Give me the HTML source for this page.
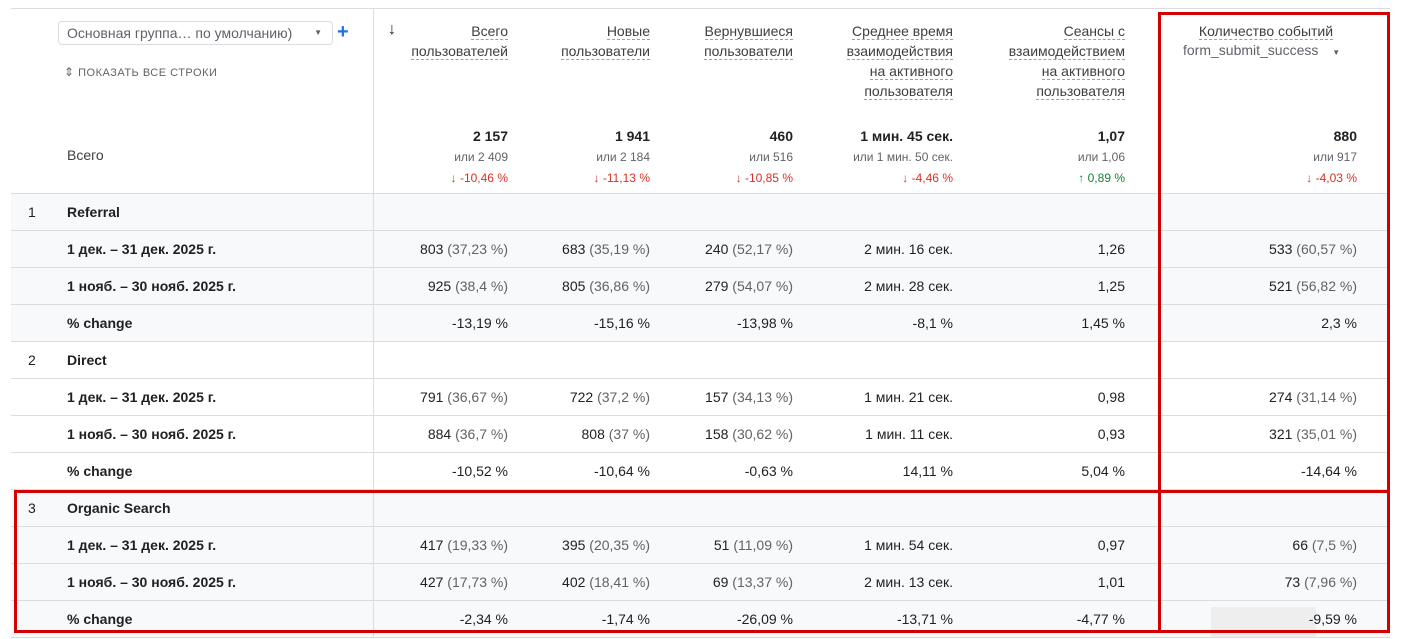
<!DOCTYPE html>
<html><head><meta charset="utf-8">
<style>
*{margin:0;padding:0;box-sizing:border-box}
body{width:1401px;height:639px;background:#fff;position:relative;overflow:hidden;font-family:"Liberation Sans",Arial,sans-serif;color:#202124;font-size:14px}
.a{position:absolute;white-space:nowrap}
.r{position:absolute;left:11px;width:1379px;height:37px;border-bottom:1px solid #dadce0}
.g{background:#f8f9fa}
.r .a{top:0;line-height:36px}
.lab{left:56px;font-weight:bold}
.num{left:17px}
.m{color:#5f6368}
.h{text-align:right;line-height:20px;color:#3c4043}
.h span{border-bottom:1px dashed #9aa0a6}
.red{color:#d93025;font-size:12px}
.grn{color:#188038;font-size:12px}
.sub{color:#5f6368;font-size:12px}
</style></head><body>
<div class="a" style="left:11px;top:8px;width:1379px;height:1px;background:#dadce0"></div>
<div class="a" style="left:373px;top:8px;width:1px;height:630px;background:#dadce0;z-index:2"></div>

<div class="a" style="left:58px;top:21px;width:275px;height:24px;border:1px solid #dadce0;border-radius:4px;line-height:22px;padding-left:8px;color:#5f6368;font-size:14px">Основная группа… по умолчанию)<span style="position:absolute;right:10px;font-size:8px">▼</span></div>
<div class="a" style="left:337px;top:20px;color:#1a73e8;font-size:20px;font-weight:bold;line-height:24px">+</div>
<div class="a" style="left:64px;top:64px;color:#5f6368;font-size:11px;letter-spacing:0.5px;line-height:16px"><span style="font-size:12px">⇕</span> ПОКАЗАТЬ ВСЕ СТРОКИ</div>
<div class="a" style="left:388px;top:21px;font-size:16px;font-weight:bold">↓</div>

<div class="a h" style="right:893px;top:21px"><span>Всего</span><br><span>пользователей</span></div>
<div class="a h" style="right:751px;top:21px"><span>Новые</span><br><span>пользователи</span></div>
<div class="a h" style="right:608px;top:21px"><span>Вернувшиеся</span><br><span>пользователи</span></div>
<div class="a h" style="right:448px;top:21px"><span>Среднее время</span><br><span>взаимодействия</span><br><span>на активного</span><br><span>пользователя</span></div>
<div class="a h" style="right:276px;top:21px"><span>Сеансы с</span><br><span>взаимодействием</span><br><span>на активного</span><br><span>пользователя</span></div>
<div class="a h" style="left:1160px;width:212px;text-align:center;top:21px"><span>Количество событий</span></div>
<div class="a" style="left:1183px;top:42px;color:#5f6368;font-size:14px">form_submit_success <span style="font-size:8px;margin-left:10px">▼</span></div>

<div class="a" style="left:67px;top:147px;color:#3c4043">Всего</div>
<div class="a" style="right:893px;top:126px;text-align:right;line-height:20px"><b>2 157</b><br><span class="sub">или 2 409</span><br><span class="red">↓ -10,46 %</span></div>
<div class="a" style="right:751px;top:126px;text-align:right;line-height:20px"><b>1 941</b><br><span class="sub">или 2 184</span><br><span class="red">↓ -11,13 %</span></div>
<div class="a" style="right:608px;top:126px;text-align:right;line-height:20px"><b>460</b><br><span class="sub">или 516</span><br><span class="red">↓ -10,85 %</span></div>
<div class="a" style="right:448px;top:126px;text-align:right;line-height:20px"><b>1 мин. 45 сек.</b><br><span class="sub">или 1 мин. 50 сек.</span><br><span class="red">↓ -4,46 %</span></div>
<div class="a" style="right:276px;top:126px;text-align:right;line-height:20px"><b>1,07</b><br><span class="sub">или 1,06</span><br><span class="grn">↑ 0,89 %</span></div>
<div class="a" style="right:44px;top:126px;text-align:right;line-height:20px"><b>880</b><br><span class="sub">или 917</span><br><span class="red">↓ -4,03 %</span></div>
<div class="a" style="left:11px;top:193px;width:1379px;height:1px;background:#dadce0"></div>

<div class="r g" style="top:194px"><div class="a num">1</div><div class="a lab">Referral</div></div>
<div class="r g" style="top:231px"><div class="a lab">1 дек. – 31 дек. 2025 г.</div>
<div class="a" style="right:882px">803 <span class="m">(37,23 %)</span></div><div class="a" style="right:740px">683 <span class="m">(35,19 %)</span></div><div class="a" style="right:597px">240 <span class="m">(52,17 %)</span></div><div class="a" style="right:437px">2 мин. 16 сек.</div><div class="a" style="right:265px">1,26</div><div class="a" style="right:33px">533 <span class="m">(60,57 %)</span></div></div>
<div class="r g" style="top:268px"><div class="a lab">1 нояб. – 30 нояб. 2025 г.</div>
<div class="a" style="right:882px">925 <span class="m">(38,4 %)</span></div><div class="a" style="right:740px">805 <span class="m">(36,86 %)</span></div><div class="a" style="right:597px">279 <span class="m">(54,07 %)</span></div><div class="a" style="right:437px">2 мин. 28 сек.</div><div class="a" style="right:265px">1,25</div><div class="a" style="right:33px">521 <span class="m">(56,82 %)</span></div></div>
<div class="r g" style="top:305px"><div class="a lab">% change</div>
<div class="a" style="right:882px">-13,19 %</div><div class="a" style="right:740px">-15,16 %</div><div class="a" style="right:597px">-13,98 %</div><div class="a" style="right:437px">-8,1 %</div><div class="a" style="right:265px">1,45 %</div><div class="a" style="right:33px">2,3 %</div></div>

<div class="r" style="top:342px"><div class="a num">2</div><div class="a lab">Direct</div></div>
<div class="r" style="top:379px"><div class="a lab">1 дек. – 31 дек. 2025 г.</div>
<div class="a" style="right:882px">791 <span class="m">(36,67 %)</span></div><div class="a" style="right:740px">722 <span class="m">(37,2 %)</span></div><div class="a" style="right:597px">157 <span class="m">(34,13 %)</span></div><div class="a" style="right:437px">1 мин. 21 сек.</div><div class="a" style="right:265px">0,98</div><div class="a" style="right:33px">274 <span class="m">(31,14 %)</span></div></div>
<div class="r" style="top:416px"><div class="a lab">1 нояб. – 30 нояб. 2025 г.</div>
<div class="a" style="right:882px">884 <span class="m">(36,7 %)</span></div><div class="a" style="right:740px">808 <span class="m">(37 %)</span></div><div class="a" style="right:597px">158 <span class="m">(30,62 %)</span></div><div class="a" style="right:437px">1 мин. 11 сек.</div><div class="a" style="right:265px">0,93</div><div class="a" style="right:33px">321 <span class="m">(35,01 %)</span></div></div>
<div class="r" style="top:453px"><div class="a lab">% change</div>
<div class="a" style="right:882px">-10,52 %</div><div class="a" style="right:740px">-10,64 %</div><div class="a" style="right:597px">-0,63 %</div><div class="a" style="right:437px">14,11 %</div><div class="a" style="right:265px">5,04 %</div><div class="a" style="right:33px">-14,64 %</div></div>

<div class="r g" style="top:490px"><div class="a num">3</div><div class="a lab">Organic Search</div></div>
<div class="r g" style="top:527px"><div class="a lab">1 дек. – 31 дек. 2025 г.</div>
<div class="a" style="right:882px">417 <span class="m">(19,33 %)</span></div><div class="a" style="right:740px">395 <span class="m">(20,35 %)</span></div><div class="a" style="right:597px">51 <span class="m">(11,09 %)</span></div><div class="a" style="right:437px">1 мин. 54 сек.</div><div class="a" style="right:265px">0,97</div><div class="a" style="right:33px">66 <span class="m">(7,5 %)</span></div></div>
<div class="r g" style="top:564px"><div class="a lab">1 нояб. – 30 нояб. 2025 г.</div>
<div class="a" style="right:882px">427 <span class="m">(17,73 %)</span></div><div class="a" style="right:740px">402 <span class="m">(18,41 %)</span></div><div class="a" style="right:597px">69 <span class="m">(13,37 %)</span></div><div class="a" style="right:437px">2 мин. 13 сек.</div><div class="a" style="right:265px">1,01</div><div class="a" style="right:33px">73 <span class="m">(7,96 %)</span></div></div>
<div class="r g" style="top:601px"><div class="a" style="left:1200px;top:6px;width:105px;height:30px;background:#eeeeef;line-height:30px"></div><div class="a lab">% change</div>
<div class="a" style="right:882px">-2,34 %</div><div class="a" style="right:740px">-1,74 %</div><div class="a" style="right:597px">-26,09 %</div><div class="a" style="right:437px">-13,71 %</div><div class="a" style="right:265px">-4,77 %</div><div class="a" style="right:33px">-9,59 %</div></div>

<div class="a" style="left:1158px;top:12px;width:232px;height:621px;border:3px solid #d40000;z-index:5"></div>
<div class="a" style="left:14px;top:490px;width:1376px;height:143px;border:3px solid #d40000;z-index:5"></div>
</body></html>
